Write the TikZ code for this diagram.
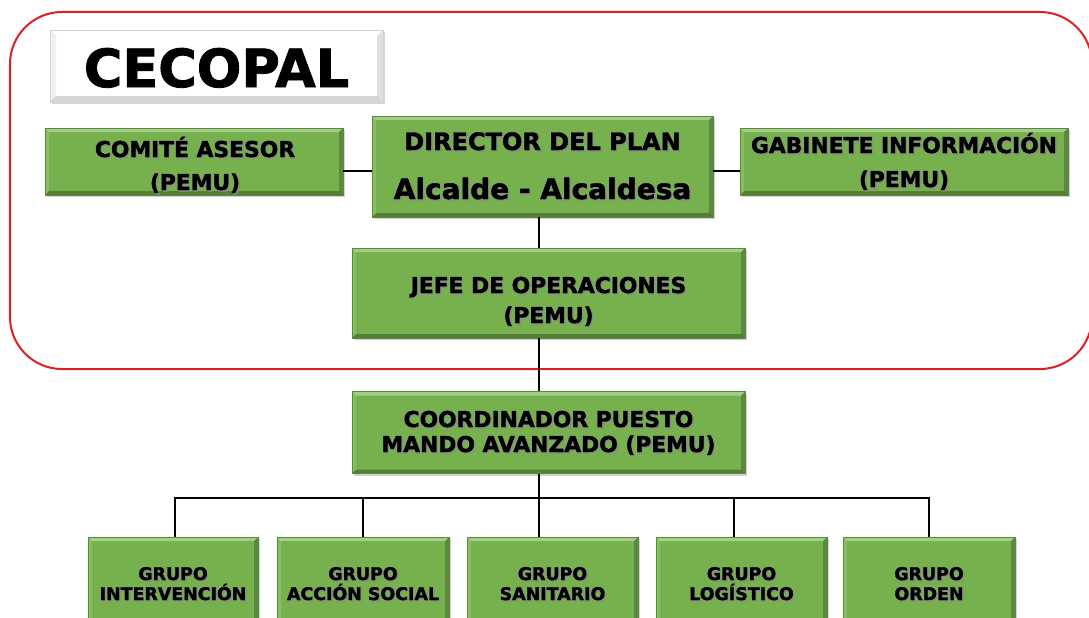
\documentclass[tikz,border=0pt]{standalone}
\usepackage{fontspec}
\setmainfont{DejaVu Sans}[BoldFeatures={FakeBold=1.6}]
\usetikzlibrary{shadows,calc}
\definecolor{gfill}{RGB}{118,177,77}
\definecolor{gedge}{RGB}{88,140,55}
\definecolor{redline}{RGB}{222,32,38}
\newcommand\shd[1]{\makebox[0pt][l]{\hspace{1.4pt}\raisebox{-1.4pt}{\textcolor{black!45}{#1}}}#1}
\begin{document}
\begin{tikzpicture}[x=1pt,y=-1pt,
  bevel/.style={path picture={
    \fill[white,opacity=0.35] (path picture bounding box.north west) -- (path picture bounding box.north east) -- ([shift={(-#1,-#1)}]path picture bounding box.north east) -- ([shift={(#1,-#1)}]path picture bounding box.north west) -- cycle;
    \fill[white,opacity=0.15] (path picture bounding box.north west) -- ([shift={(#1,-#1)}]path picture bounding box.north west) -- ([shift={(#1,#1)}]path picture bounding box.south west) -- (path picture bounding box.south west) -- cycle;
    \fill[black,opacity=0.22] (path picture bounding box.north east) -- (path picture bounding box.south east) -- ([shift={(-#1,#1)}]path picture bounding box.south east) -- ([shift={(-#1,-#1)}]path picture bounding box.north east) -- cycle;
    \fill[black,opacity=0.28] (path picture bounding box.south west) -- (path picture bounding box.south east) -- ([shift={(-#1,#1)}]path picture bounding box.south east) -- ([shift={(#1,#1)}]path picture bounding box.south west) -- cycle;
  }},
  gbox/.style={draw=gedge, line width=0.5pt, fill=gfill, inner sep=0pt,
    drop shadow={shadow xshift=2pt, shadow yshift=-2pt, opacity=0.35}, bevel=4pt},
  line/.style={anchor=base, inner sep=0pt},
  mid/.style={line, font=\fontsize{21.8}{21.8}\selectfont\bfseries},
  small/.style={line, font=\fontsize{17.4}{17.4}\selectfont\bfseries},
  link/.style={line width=2.5pt, black}
]
\useasboundingbox (0,0) rectangle (1089,618);
\clip (0,0) rectangle (1089,618);
\fill[white] (0,0) rectangle (1089,618);

% red frame
\draw[redline, line width=2pt, rounded corners=52pt] (10,12) rectangle (1092,369);

% title
\node[draw=gray!35, line width=0.5pt, fill=white, inner sep=0pt,
  minimum width=333pt, minimum height=72pt,
  drop shadow={shadow xshift=2pt, shadow yshift=-2pt, opacity=0.3},
  path picture={
    \fill[black,opacity=0.12] (path picture bounding box.north east) -- (path picture bounding box.south east) -- ([shift={(-6pt,6pt)}]path picture bounding box.south east) -- ([shift={(-6pt,-6pt)}]path picture bounding box.north east) -- cycle;
    \fill[black,opacity=0.16] (path picture bounding box.south west) -- (path picture bounding box.south east) -- ([shift={(-6pt,6pt)}]path picture bounding box.south east) -- ([shift={(6pt,6pt)}]path picture bounding box.south west) -- cycle;
    \fill[black,opacity=0.06] (path picture bounding box.north west) -- ([shift={(6pt,-6pt)}]path picture bounding box.north west) -- ([shift={(6pt,6pt)}]path picture bounding box.south west) -- (path picture bounding box.south west) -- cycle;
  }] (title) at (216.5,66) {};
\node[line, font=\fontsize{52.5}{52.5}\selectfont\bfseries] (titleT) at (216.5,87) {CECOPAL};

% boxes
\node[gbox, minimum width=298pt, minimum height=67pt] (com) at (194,161.5) {};
\node[gbox, minimum width=341pt, minimum height=101pt] (dir) at (542.5,166.5) {};
\node[gbox, minimum width=328pt, minimum height=67pt] (gab) at (904,161.5) {};
\node[gbox, minimum width=393pt, minimum height=90pt] (jefe) at (548.5,293) {};
\node[gbox, minimum width=393pt, minimum height=82pt] (coord) at (548.5,432.5) {};

\node[gbox, minimum width=170pt, minimum height=95pt] (g1) at (173,584.5) {};
\node[gbox, minimum width=172pt, minimum height=95pt] (g2) at (363,584.5) {};
\node[gbox, minimum width=171pt, minimum height=95pt] (g3) at (552.5,584.5) {};
\node[gbox, minimum width=171pt, minimum height=95pt] (g4) at (741.5,584.5) {};
\node[gbox, minimum width=172pt, minimum height=95pt] (g5) at (929,584.5) {};

% texts
\node[mid] (comA) at (195,157) {\shd{COMITÉ ASESOR}};
\node[mid] (comB) at (195,190) {\shd{(PEMU)}};
\node[line, font=\fontsize{24}{24}\selectfont\bfseries] (dirA) at (542.5,150) {\shd{DIRECTOR DEL PLAN}};
\node[line, font=\fontsize{28}{28}\selectfont\bfseries] (dirB) at (542.5,199) {\shd{Alcalde - Alcaldesa}};
\node[mid] (gabA) at (904,153) {\shd{GABINETE INFORMACIÓN}};
\node[mid] (gabB) at (904,187) {\shd{(PEMU)}};
\node[mid] (jefeA) at (548.5,293) {\shd{JEFE DE OPERACIONES}};
\node[mid] (jefeB) at (548.5,323) {\shd{(PEMU)}};
\node[mid] (coordA) at (548.5,427) {\shd{COORDINADOR PUESTO}};
\node[mid] (coordB) at (548.5,452) {\shd{MANDO AVANZADO (PEMU)}};
\node[small] (g1A) at (173,580) {\shd{GRUPO}};
\node[small] (g1B) at (173,600) {\shd{INTERVENCIÓN}};
\node[small] (g2A) at (363,580) {\shd{GRUPO}};
\node[small] (g2B) at (363,600) {\shd{ACCIÓN SOCIAL}};
\node[small] (g3A) at (552.5,580) {\shd{GRUPO}};
\node[small] (g3B) at (552.5,600) {\shd{SANITARIO}};
\node[small] (g4A) at (741.5,580) {\shd{GRUPO}};
\node[small] (g4B) at (741.5,600) {\shd{LOGÍSTICO}};
\node[small] (g5A) at (929,580) {\shd{GRUPO}};
\node[small] (g5B) at (929,600) {\shd{ORDEN}};

% connectors
\coordinate (h) at (0,171);
\coordinate (v) at (539,0);
\coordinate (bar) at (0,498);
\coordinate (x1) at (175,0);
\coordinate (x4) at (734,0);
\coordinate (x5) at (929,0);
\draw[link] (com.east |- h) -- (dir.west |- h);
\draw[link] (dir.east |- h) -- (gab.west |- h);
\draw[link] (v |- dir.south) -- (v |- jefe.north);
\draw[link] (v |- jefe.south) -- (v |- coord.north);
\draw[link] (v |- coord.south) -- (v |- g3.north);
\draw[link] (x1 |- g1.north) -- (x1 |- bar) -- (x5 |- bar) -- (x5 |- g5.north);
\draw[link] (g2.north) -- (g2.north |- bar);
\draw[link] (x4 |- g4.north) -- (x4 |- bar);
\end{tikzpicture}
\end{document}
